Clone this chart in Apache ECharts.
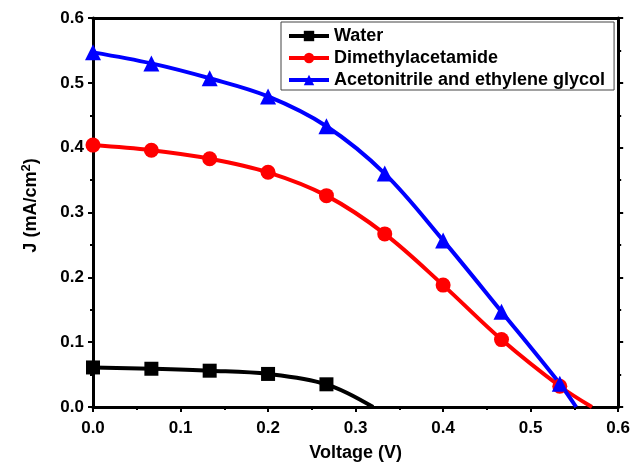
<!DOCTYPE html>
<html>
<head>
<meta charset="utf-8">
<script src="https://cdn.jsdelivr.net/npm/echarts@6/dist/echarts.min.js"></script>
<style>
  html, body { margin: 0; padding: 0; background: #fff; }
  #chart { width: 633px; height: 467px; }
</style>
</head>
<body>
<div id="chart"></div>
<script>
// voltage (V) of the measured points
var voltage = [0, 0.0667, 0.1333, 0.2, 0.2667, 0.3333, 0.4, 0.4667, 0.5333];

// current density J (mA/cm2)
var water = [0.061, 0.059, 0.056, 0.051, 0.035];
var dimethylacetamide = [0.404, 0.396, 0.383, 0.362, 0.326, 0.267, 0.188, 0.104, 0.032];
var acetonitrile = [0.547, 0.530, 0.507, 0.479, 0.433, 0.360, 0.257, 0.147, 0.036];

// open circuit voltage where each curve meets J = 0
var vocWater = 0.32;
var vocDimethyl = 0.57;
var vocAceto = 0.552;

var names = ['Water', 'Dimethylacetamide', 'Acetonitrile and ethylene glycol'];
var colors = ['#000000', '#ff0000', '#0000ff'];
var fontFamily = 'Arial, "Liberation Sans", sans-serif';

function toPoints (values, voc) {
  var pts = values.map(function (v, i) { return [voltage[i], v]; });
  pts.push({ value: [voc, 0], symbol: 'none' });
  return pts;
}

function makeSeries (name, values, voc, symbol, size, color) {
  return {
    name: name,
    type: 'line',
    data: toPoints(values, voc),
    smooth: 0.35,
    symbol: symbol,
    symbolSize: size,
    showAllSymbol: true,
    lineStyle: { color: color, width: 4 },
    itemStyle: { color: color },
    z: 3
  };
}

var tickLabel = { fontFamily: fontFamily, fontWeight: 'bold', fontSize: 17, color: '#000' };
var axisLine = { show: true, onZero: false, lineStyle: { color: '#000', width: 3 } };
var axisTick = { show: true, inside: false, length: 5, lineStyle: { color: '#000', width: 2 } };
var minorTick = { show: true, splitNumber: 2, length: 3, lineStyle: { color: '#000', width: 2 } };

var chart = echarts.init(document.getElementById('chart'));
chart.setOption({
  animation: false,
  backgroundColor: '#fff',
  grid: { left: 93, right: 13, top: 18, bottom: 59, containLabel: false },
  legend: {
    data: names,
    orient: 'vertical',
    left: 281,
    top: 22,
    itemWidth: 40,
    itemHeight: 13,
    itemGap: 4,
    padding: [5, 9, 1, 6],
    borderColor: '#444',
    borderWidth: 1,
    backgroundColor: '#fff',
    lineStyle: { width: 4 },
    textStyle: { fontFamily: fontFamily, fontWeight: 'bold', fontSize: 18, color: '#000' }
  },
  xAxis: [
    {
      type: 'value',
      min: 0,
      max: 0.6,
      interval: 0.1,
      name: 'Voltage (V)',
      nameLocation: 'middle',
      nameGap: 37,
      nameTextStyle: { fontFamily: fontFamily, fontWeight: 'bold', fontSize: 18, color: '#000' },
      axisLine: axisLine,
      axisTick: axisTick,
      minorTick: minorTick,
      splitLine: { show: false },
      axisLabel: Object.assign({ margin: 13, formatter: function (v) { return v.toFixed(1); } }, tickLabel)
    },
    {
      type: 'value',
      position: 'top',
      min: 0,
      max: 0.6,
      interval: 0.1,
      axisLine: axisLine,
      axisTick: { show: false },
      splitLine: { show: false },
      axisLabel: { show: false }
    }
  ],
  yAxis: [
    {
      type: 'value',
      min: 0,
      max: 0.6,
      interval: 0.1,
      name: 'J (mA/cm{sup|2})',
      nameLocation: 'middle',
      nameGap: 50,
      nameRotate: 90,
      nameTextStyle: {
        fontFamily: fontFamily, fontWeight: 'bold', fontSize: 18, color: '#000',
        padding: [0, 0, 0, 14],
        rich: { sup: { fontFamily: fontFamily, fontWeight: 'bold', fontSize: 13, verticalAlign: 'top', padding: [0, 0, 10, 0] } }
      },
      axisLine: axisLine,
      axisTick: axisTick,
      minorTick: minorTick,
      splitLine: { show: false },
      axisLabel: Object.assign({ margin: 9, formatter: function (v) { return v.toFixed(1); } }, tickLabel)
    },
    {
      type: 'value',
      position: 'right',
      min: 0,
      max: 0.6,
      interval: 0.1,
      axisLine: axisLine,
      axisTick: axisTick,
      minorTick: minorTick,
      splitLine: { show: false },
      axisLabel: { show: false }
    }
  ],
  series: [
    makeSeries(names[0], water, vocWater, 'rect', 14, colors[0]),
    makeSeries(names[1], dimethylacetamide, vocDimethyl, 'circle', 15, colors[1]),
    makeSeries(names[2], acetonitrile, vocAceto, 'triangle', 16, colors[2])
  ]
});
</script>
</body>
</html>
